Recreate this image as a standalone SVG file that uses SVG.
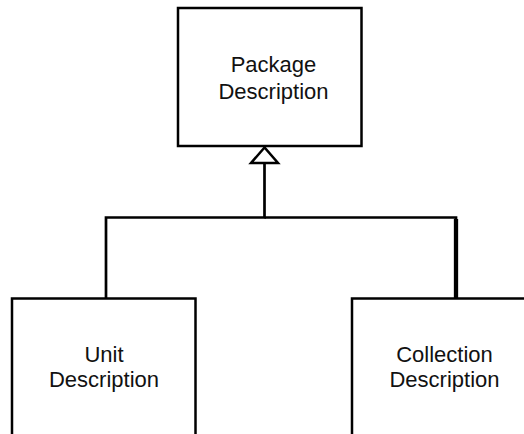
<svg xmlns="http://www.w3.org/2000/svg" width="524" height="434" viewBox="0 0 524 434">
<style>
.box{fill:#fff;stroke:#000;stroke-width:2.5}
.lbl{font-family:"Liberation Sans",Arial,sans-serif;font-size:22px;fill:#111;text-anchor:middle}
.con{fill:none;stroke:#000;stroke-width:2.7}
</style>
<rect width="524" height="434" fill="#fff"/>
<g id="connectors">
<polyline class="con" points="106,298.5 106,217.5 264.5,217.5 264.5,163"/>
<polyline class="con" points="264.5,217.5 456,217.5 456,298.5" style="stroke-width:2.7"/>
<line x1="456" y1="219" x2="456" y2="298" stroke="#000" stroke-width="4.3"/>
<polygon points="264.5,147.5 251,163 278,163" fill="#fff" stroke="#000" stroke-width="2.5"/>
</g>
<g id="package">
<rect class="box" x="178" y="8" width="183.5" height="138"/>
<text class="lbl" x="273.5" y="72">Package</text>
<text class="lbl" x="273.5" y="99">Description</text>
</g>
<g id="unit">
<rect class="box" x="12" y="298.5" width="183.5" height="150"/>
<text class="lbl" x="104" y="362">Unit</text>
<text class="lbl" x="104" y="386.5">Description</text>
</g>
<g id="collection">
<rect class="box" x="352" y="298.5" width="183.5" height="150"/>
<text class="lbl" x="444.5" y="362">Collection</text>
<text class="lbl" x="444.5" y="386.5">Description</text>
</g>
</svg>
